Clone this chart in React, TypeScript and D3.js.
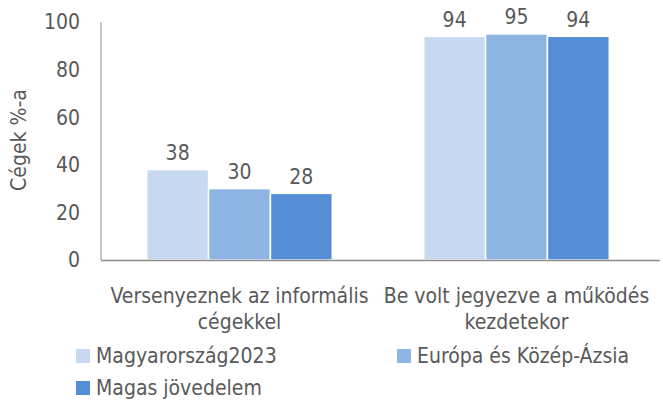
import React, { useEffect, useRef } from "react";
import * as d3 from "d3";

const categories = [
  ["Versenyeznek az informális", "cégekkel"],
  ["Be volt jegyezve a működés", "kezdetekor"],
];
const seriesNames = ["Magyarország2023", "Európa és Közép-Ázsia", "Magas jövedelem"];
const seriesValues = [
  [38, 94],
  [30, 95],
  [28, 94],
];
const colors = ["#c6d9f0", "#8eb4e3", "#558ed5"];
const yTicks = [0, 20, 40, 60, 80, 100];

const font = "'Liberation Sans Narrow', 'DejaVu Sans Condensed', sans-serif";
const fs = 21;

export default function App() {
  const svgRef = useRef<SVGSVGElement>(null);

  useEffect(() => {
    const svg = d3.select(svgRef.current);
    svg.selectAll("*").remove();

    const left = 101,
      right = 655,
      top = 22,
      bottom = 260;

    const x0 = d3
      .scaleBand<number>()
      .domain(categories.map((_, i) => i))
      .range([left, right])
      .paddingInner(0.33)
      .paddingOuter(0.165);
    const x1 = d3
      .scaleBand<number>()
      .domain(seriesNames.map((_, i) => i))
      .range([0, x0.bandwidth()])
      .padding(0);
    const y = d3.scaleLinear().domain([0, 100]).range([bottom, top]);

    // y ticks
    svg
      .append("g")
      .selectAll("text")
      .data(yTicks)
      .join("text")
      .attr("x", 80)
      .attr("y", (d) => y(d))
      .attr("dy", "0.35em")
      .attr("text-anchor", "end")
      .attr("font-family", font)
      .attr("font-size", fs)
      .attr("fill", "#595959")
      .text((d) => d);

    svg
      .append("text")
      .attr("transform", `translate(26,140) rotate(-90)`)
      .attr("text-anchor", "middle")
      .attr("font-family", font)
      .attr("font-size", fs)
      .attr("fill", "#595959")
      .text("Cégek %-a");

    // bars
    seriesValues.forEach((vals, s) => {
      const g = svg.append("g");
      g.selectAll("rect")
        .data(vals)
        .join("rect")
        .attr("x", (_, i) => x0(i)! + x1(s)!)
        .attr("y", (d) => y(d))
        .attr("width", x1.bandwidth())
        .attr("height", (d) => y(0) - y(d))
        .attr("fill", colors[s])
        .attr("stroke", "#fff")
        .attr("stroke-width", 1.5);
      g.selectAll("text")
        .data(vals)
        .join("text")
        .attr("x", (_, i) => x0(i)! + x1(s)! + x1.bandwidth() / 2)
        .attr("y", (d) => y(d) - 17)
        .attr("dy", "0.35em")
        .attr("text-anchor", "middle")
        .attr("font-family", font)
        .attr("font-size", fs)
        .attr("fill", "#595959")
        .text((d) => d);
    });

    // axes lines
    svg
      .append("line")
      .attr("x1", left)
      .attr("x2", left)
      .attr("y1", top)
      .attr("y2", bottom)
      .attr("stroke", "#8c8c8c")
      .attr("stroke-width", 1);
    svg
      .append("line")
      .attr("x1", left)
      .attr("x2", 660)
      .attr("y1", bottom + 0.5)
      .attr("y2", bottom + 0.5)
      .attr("stroke", "#8c8c8c")
      .attr("stroke-width", 1.5);

    // category labels
    categories.forEach((lines, i) => {
      const cx = x0(i)! + x0.bandwidth() / 2;
      lines.forEach((line, j) => {
        svg
          .append("text")
          .attr("x", cx)
          .attr("y", 296 + j * 26)
          .attr("dy", "0.35em")
          .attr("text-anchor", "middle")
          .attr("font-family", font)
          .attr("font-size", fs)
          .attr("fill", "#595959")
          .text(line);
      });
    });

    // legend
    const legendPos = [
      [76, 356],
      [397, 356],
      [76, 388],
    ];
    seriesNames.forEach((name, s) => {
      const [lx, ly] = legendPos[s];
      svg
        .append("rect")
        .attr("x", lx)
        .attr("y", ly - 7)
        .attr("width", 14)
        .attr("height", 14)
        .attr("fill", colors[s]);
      svg
        .append("text")
        .attr("x", lx + 20)
        .attr("y", ly)
        .attr("dy", "0.33em")
        .attr("font-family", font)
        .attr("font-size", fs)
        .attr("fill", "#595959")
        .text(name);
    });
  }, []);

  return (
    <svg
      ref={svgRef}
      width={663}
      height={403}
      style={{ position: "absolute", left: 0, top: 0, background: "#fff" }}
    />
  );
}
